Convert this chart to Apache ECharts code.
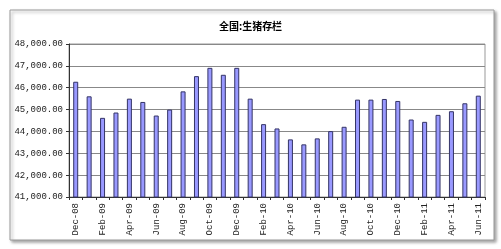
<!DOCTYPE html>
<html><head><meta charset="utf-8">
<script src="https://cdn.jsdelivr.net/npm/echarts@6/dist/echarts.min.js"></script>
<style>html,body{margin:0;padding:0;background:#fff}#c{width:501px;height:249px}</style>
</head><body><div id="c"></div>
<script>
var months = ['Dec-08','Jan-09','Feb-09','Mar-09','Apr-09','May-09','Jun-09','Jul-09','Aug-09','Sep-09','Oct-09','Nov-09','Dec-09','Jan-10','Feb-10','Mar-10','Apr-10','May-10','Jun-10','Jul-10','Aug-10','Sep-10','Oct-10','Nov-10','Dec-10','Jan-11','Feb-11','Mar-11','Apr-11','May-11','Jun-11'];
var hogStock = [46273,45606,44621,44864,45500,45348,44727,45000,45833,46530,46909,46591,46909,45500,44333,44136,43636,43409,43682,44015,44212,45455,45455,45485,45394,44545,44439,44758,44924,45288,45636];
var title = '全国:生猪存栏';
var yMin = 41000, yMax = 48000, yStep = 1000;

var chart = echarts.init(document.getElementById('c'), null, {renderer:'canvas'});
var mono = 'Liberation Mono, DejaVu Sans Mono, monospace';
chart.setOption({
  animation:false,
  backgroundColor:'#fff',
  graphic:[
    {type:'rect', shape:{x:10,y:10,width:484,height:230}, style:{fill:'#fff',stroke:'#9a9a9a',lineWidth:1,shadowBlur:3,shadowOffsetX:2,shadowOffsetY:2,shadowColor:'rgba(0,0,0,0.35)'}, z:-10}
  ],
  title:{text:title,left:'center',top:16,textStyle:{fontFamily:'Noto Sans CJK SC',fontSize:10,fontWeight:'bold',color:'#000'}},
  grid:{left:69,right:16,top:44,bottom:52,show:true,borderColor:'#999',borderWidth:1},
  xAxis:{type:'category',data:months,
    axisLine:{lineStyle:{color:'#333'}},
    axisTick:{show:true,interval:0,length:3,lineStyle:{color:'#333'}},
    axisLabel:{interval:1,rotate:90,fontFamily:mono,fontSize:9,color:'#222',margin:6}},
  yAxis:{type:'value',min:yMin,max:yMax,interval:yStep,
    axisLine:{show:true,lineStyle:{color:'#333'}},
    axisTick:{show:true,length:3,lineStyle:{color:'#333'}},
    splitLine:{lineStyle:{color:'#888'}},
    axisLabel:{fontFamily:mono,fontSize:9,color:'#222',margin:6,
      formatter:function(v){return v.toLocaleString('en-US',{minimumFractionDigits:2,maximumFractionDigits:2});}}},
  series:[{type:'bar',data:hogStock,barWidth:5,
    itemStyle:{color:'#9999ff',borderColor:'#333366',borderWidth:1}}]
});
</script></body></html>
